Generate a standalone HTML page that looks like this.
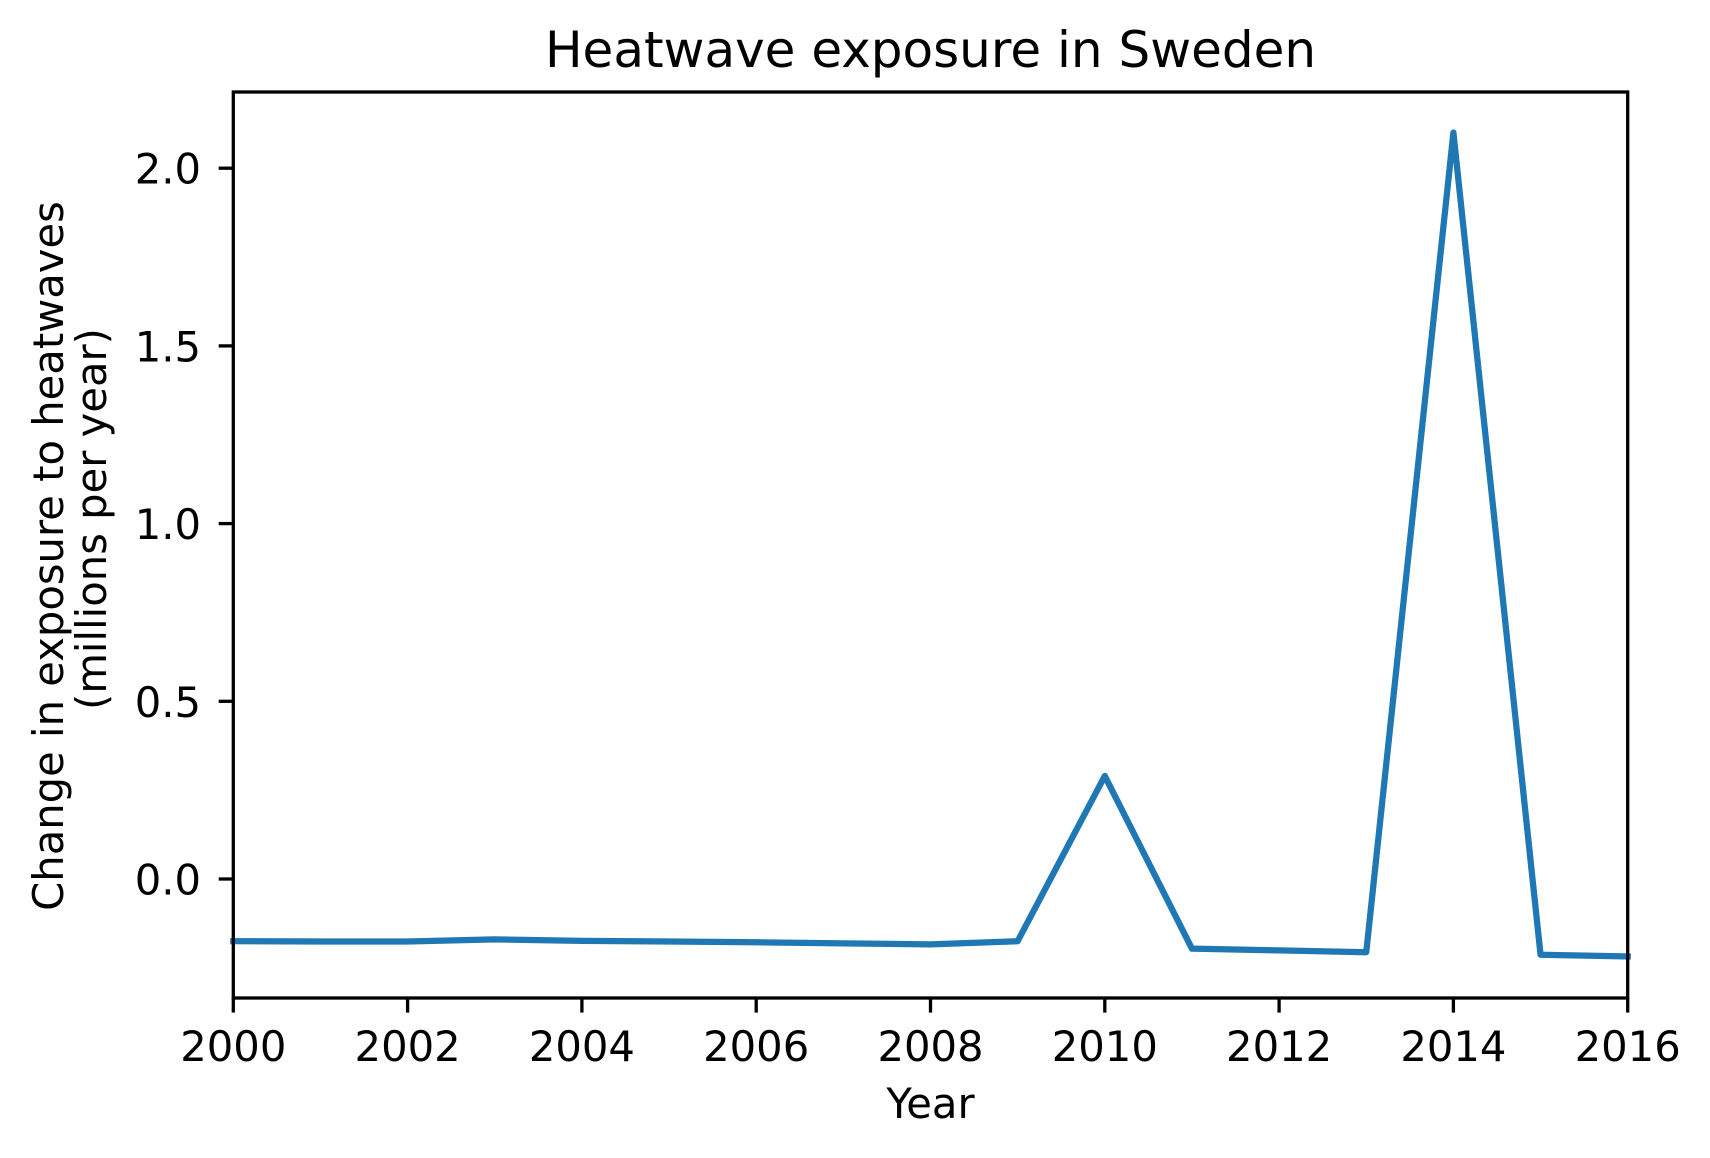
<!DOCTYPE html>
<html><head><meta charset="utf-8"><style>html,body{margin:0;padding:0;background:#fff}svg{display:block}</style></head>
<body>
<svg id="chart" width="1710" height="1158" viewBox="0 0 1710 1158" xmlns="http://www.w3.org/2000/svg" font-family="DejaVu Sans, Liberation Sans, sans-serif">
<rect width="1710" height="1158" fill="#fff"/>
<text x="930.5" y="67" text-anchor="middle" font-size="50">Heatwave exposure in Sweden</text>
<g id="plot"></g>
<text x="930.5" y="1118" text-anchor="middle" font-size="41.7">Year</text>
<text transform="translate(63,556) rotate(-90)" text-anchor="middle" font-size="41.7">Change in exposure to heatwaves</text>
<text transform="translate(106,519) rotate(-90)" text-anchor="middle" font-size="41.7">(millions per year)</text>
</svg>
<script>
const years = [2000,2001,2002,2003,2004,2005,2006,2007,2008,2009,2010,2011,2012,2013,2014,2015,2016];
const values = [-0.175,-0.176,-0.176,-0.17,-0.174,-0.176,-0.178,-0.181,-0.184,-0.175,0.29,-0.196,-0.201,-0.206,2.1,-0.213,-0.218];
const xTicks = [2000,2002,2004,2006,2008,2010,2012,2014,2016];
const yTicks = [0,0.5,1,1.5,2];
const yTickLabels = ["0.0","0.5","1.0","1.5","2.0"];
const L=233.3,R=1627.7,T=92,B=998,xMin=2000,xMax=2016;
const x=v=>L+(v-xMin)/(xMax-xMin)*(R-L);
const y=v=>879-v*355.4;
const NS="http://www.w3.org/2000/svg";
const g=document.getElementById('plot');
function mk(tag,attrs){const e=document.createElementNS(NS,tag);for(const k in attrs)e.setAttribute(k,attrs[k]);g.appendChild(e);return e;}
const line=mk('polyline',{points:years.map((yr,i)=>x(yr)+','+y(values[i])).join(' '),fill:'none',stroke:'#1f77b4','stroke-width':6.25,'stroke-linejoin':'round','stroke-linecap':'square'});


const frame=mk('rect',{x:L,y:T,width:R-L,height:B-T,fill:'none',stroke:'#000','stroke-width':3.3});


xTicks.forEach(t=>{
  const tk=mk('line',{x1:x(t),x2:x(t),y1:B,y2:B+14.6,stroke:'#000','stroke-width':3.3});
  
  
  const lb=mk('text',{x:x(t),y:1061,'text-anchor':'middle','font-size':41.7});
  lb.textContent=t;
  
  
});
yTicks.forEach((t,i)=>{
  const tk=mk('line',{x1:L-14.6,x2:L,y1:y(t),y2:y(t),stroke:'#000','stroke-width':3.3});
  
  
  const lb=mk('text',{x:201,y:y(t)+15.5,'text-anchor':'end','font-size':41.7});
  lb.textContent=yTickLabels[i];
  
  
});
</script>
</body></html>
